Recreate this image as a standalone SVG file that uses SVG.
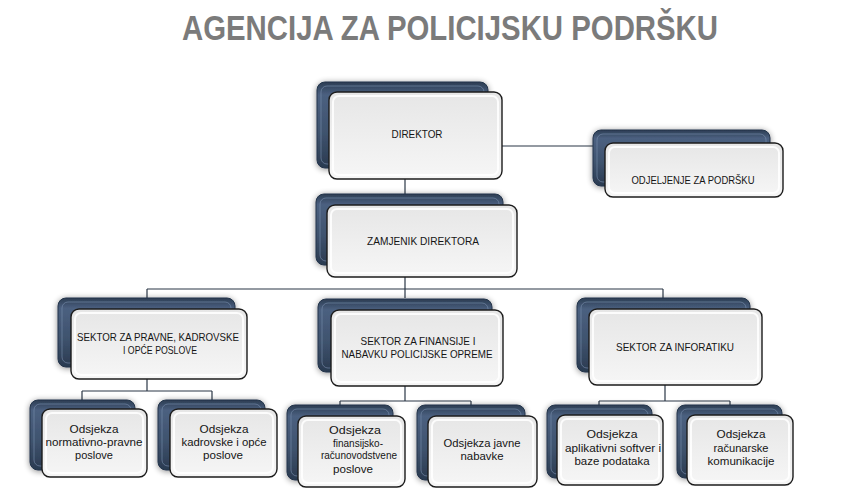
<svg xmlns="http://www.w3.org/2000/svg" width="856" height="498" viewBox="0 0 856 498">
<defs>
<linearGradient id="gBack" x1="0" y1="0" x2="0" y2="1">
<stop offset="0" stop-color="#2c3d53"/>
<stop offset="0.15" stop-color="#4b6080"/>
<stop offset="0.6" stop-color="#3e526d"/>
<stop offset="1" stop-color="#2a3a50"/>
</linearGradient>
<linearGradient id="gFront" x1="0" y1="0" x2="0" y2="1">
<stop offset="0" stop-color="#e6e6e6"/>
<stop offset="0.5" stop-color="#eeeeee"/>
<stop offset="1" stop-color="#f6f6f6"/>
</linearGradient>
<filter id="sh" x="-20%" y="-20%" width="140%" height="150%">
<feGaussianBlur in="SourceAlpha" stdDeviation="3"/>
<feOffset dx="0" dy="1" result="b"/>
<feComponentTransfer><feFuncA type="linear" slope="0.45"/></feComponentTransfer>
<feMerge><feMergeNode/><feMergeNode in="SourceGraphic"/></feMerge>
</filter>
</defs>
<style>
.back{fill:url(#gBack);stroke:#24344a;stroke-width:1;filter:url(#sh)}
.backhl{fill:none;stroke:#7a90ad;stroke-width:1;opacity:0.6}
.front{fill:url(#gFront);stroke:#1c1c1c;stroke-width:1.4}
.bevel{fill:none;stroke:#ffffff;stroke-width:2;opacity:0.85}
.lbl{font-family:"Liberation Sans",Arial,sans-serif;font-size:10.5px;fill:#151515;text-anchor:middle}
.sub{font-family:"Liberation Sans",Arial,sans-serif;font-size:11px;fill:#151515;text-anchor:middle}
.title{font-family:"Liberation Sans",Arial,sans-serif;font-size:35px;font-weight:bold;fill:#7b7b7b;text-anchor:middle}
.conn{fill:none;stroke:#2b3746;stroke-width:1.2}
</style>
<rect width="856" height="498" fill="#ffffff"/>
<text class="title" x="450" y="40" textLength="536" lengthAdjust="spacingAndGlyphs">AGENCIJA ZA POLICIJSKU PODRŠKU</text>

<g id="connectors">
<path class="conn" d="M502,146H593"/>
<path class="conn" d="M405,179V194"/>
<path class="conn" d="M405,277V289M147,289H663M147,289V298M405,289V298M663,289V298"/>
<path class="conn" d="M147,379V391M82,391H212M82,391V400M212,391V400"/>
<path class="conn" d="M405,386V401M340,401H471M340,401V405M471,401V405"/>
<path class="conn" d="M665,385V401M599,401H730M599,401V405M730,401V405"/>
</g>

<g id="direktor">
<rect class="back" x="317" y="82" width="171" height="86" rx="8"/>
<rect class="backhl" x="321" y="86" width="163" height="78" rx="6"/>
<rect class="front" x="329" y="92" width="173" height="87" rx="8"/>
<rect class="bevel" x="333" y="96" width="165" height="79" rx="6"/>
<text class="lbl" x="417" y="138" textLength="51" lengthAdjust="spacingAndGlyphs">DIREKTOR</text>
</g>

<g id="odjeljenje">
<rect class="back" x="593" y="130" width="177" height="56" rx="8"/>
<rect class="backhl" x="597" y="134" width="169" height="48" rx="6"/>
<rect class="front" x="605" y="143" width="178" height="54" rx="8"/>
<rect class="bevel" x="609" y="147" width="170" height="46" rx="6"/>
<text class="lbl" x="693" y="184" textLength="123" lengthAdjust="spacingAndGlyphs">ODJELJENJE ZA PODRŠKU</text>
</g>

<g id="zamjenik">
<rect class="back" x="316" y="194" width="187" height="71" rx="8"/>
<rect class="backhl" x="320" y="198" width="179" height="63" rx="6"/>
<rect class="front" x="327" y="205" width="190" height="72" rx="8"/>
<rect class="bevel" x="331" y="209" width="182" height="64" rx="6"/>
<text class="lbl" x="423" y="245" textLength="112" lengthAdjust="spacingAndGlyphs">ZAMJENIK DIREKTORA</text>
</g>

<g id="sektor-pravne">
<rect class="back" x="58" y="298" width="177" height="69" rx="8"/>
<rect class="backhl" x="62" y="302" width="169" height="61" rx="6"/>
<rect class="front" x="71" y="309" width="176" height="70" rx="8"/>
<rect class="bevel" x="75" y="313" width="168" height="62" rx="6"/>
<text class="lbl" x="158" y="341" textLength="162" lengthAdjust="spacingAndGlyphs">SEKTOR ZA PRAVNE, KADROVSKE</text>
<text class="lbl" x="160" y="354" textLength="74" lengthAdjust="spacingAndGlyphs">I OPĆE POSLOVE</text>
</g>

<g id="sektor-finansije">
<rect class="back" x="318" y="299" width="174" height="73" rx="8"/>
<rect class="backhl" x="322" y="303" width="166" height="65" rx="6"/>
<rect class="front" x="331" y="310" width="172" height="76" rx="8"/>
<rect class="bevel" x="335" y="314" width="164" height="68" rx="6"/>
<text class="lbl" x="418" y="345" textLength="115" lengthAdjust="spacingAndGlyphs">SEKTOR ZA FINANSIJE I</text>
<text class="lbl" x="417" y="358" textLength="151" lengthAdjust="spacingAndGlyphs">NABAVKU POLICIJSKE OPREME</text>
</g>

<g id="sektor-informatiku">
<rect class="back" x="577" y="298" width="173" height="74" rx="8"/>
<rect class="backhl" x="581" y="302" width="165" height="66" rx="6"/>
<rect class="front" x="589" y="309" width="173" height="76" rx="8"/>
<rect class="bevel" x="593" y="313" width="165" height="68" rx="6"/>
<text class="lbl" x="675" y="351" textLength="118" lengthAdjust="spacingAndGlyphs">SEKTOR ZA INFORATIKU</text>
</g>

<g id="odsjek-normativno">
<rect class="back" x="30" y="400" width="105" height="70" rx="8"/>
<rect class="backhl" x="34" y="404" width="97" height="62" rx="6"/>
<rect class="front" x="42" y="409" width="105" height="68" rx="8"/>
<rect class="bevel" x="46" y="413" width="97" height="60" rx="6"/>
<text class="sub" x="94" y="433" textLength="49" lengthAdjust="spacingAndGlyphs">Odsjekza</text>
<text class="sub" x="94" y="446" textLength="97" lengthAdjust="spacingAndGlyphs">normativno-pravne</text>
<text class="sub" x="94" y="459" textLength="38" lengthAdjust="spacingAndGlyphs">poslove</text>
</g>

<g id="odsjek-kadrovske">
<rect class="back" x="158" y="400" width="107" height="70" rx="8"/>
<rect class="backhl" x="162" y="404" width="99" height="62" rx="6"/>
<rect class="front" x="170" y="409" width="107" height="68" rx="8"/>
<rect class="bevel" x="174" y="413" width="99" height="60" rx="6"/>
<text class="sub" x="224" y="433" textLength="49" lengthAdjust="spacingAndGlyphs">Odsjekza</text>
<text class="sub" x="224" y="446" textLength="85" lengthAdjust="spacingAndGlyphs">kadrovske i opće</text>
<text class="sub" x="223" y="459" textLength="40" lengthAdjust="spacingAndGlyphs">poslove</text>
</g>

<g id="odsjek-finansijsko">
<rect class="back" x="287" y="405" width="106" height="75" rx="8"/>
<rect class="backhl" x="291" y="409" width="98" height="67" rx="6"/>
<rect class="front" x="298" y="416" width="107" height="71" rx="8"/>
<rect class="bevel" x="302" y="420" width="99" height="63" rx="6"/>
<text class="sub" x="355" y="434" textLength="52" lengthAdjust="spacingAndGlyphs">Odsjekza</text>
<text class="sub" x="358" y="447" textLength="50" lengthAdjust="spacingAndGlyphs">finansijsko-</text>
<text class="sub" x="359" y="459" textLength="76" lengthAdjust="spacingAndGlyphs">računovodstvene</text>
<text class="sub" x="353" y="473" textLength="40" lengthAdjust="spacingAndGlyphs">poslove</text>
</g>

<g id="odsjek-nabavke">
<rect class="back" x="417" y="405" width="108" height="75" rx="8"/>
<rect class="backhl" x="421" y="409" width="100" height="67" rx="6"/>
<rect class="front" x="428" y="416" width="109" height="71" rx="8"/>
<rect class="bevel" x="432" y="420" width="101" height="63" rx="6"/>
<text class="sub" x="482" y="447" textLength="77" lengthAdjust="spacingAndGlyphs">Odsjekza javne</text>
<text class="sub" x="482" y="460" textLength="43" lengthAdjust="spacingAndGlyphs">nabavke</text>
</g>

<g id="odsjek-softver">
<rect class="back" x="547" y="405" width="105" height="73" rx="8"/>
<rect class="backhl" x="551" y="409" width="97" height="65" rx="6"/>
<rect class="front" x="557" y="415" width="106" height="70" rx="8"/>
<rect class="bevel" x="561" y="419" width="98" height="62" rx="6"/>
<text class="sub" x="612" y="438" textLength="51" lengthAdjust="spacingAndGlyphs">Odsjekza</text>
<text class="sub" x="613" y="452" textLength="96" lengthAdjust="spacingAndGlyphs">aplikativni softver i</text>
<text class="sub" x="612" y="465" textLength="75" lengthAdjust="spacingAndGlyphs">baze podataka</text>
</g>

<g id="odsjek-komunikacije">
<rect class="back" x="677" y="405" width="105" height="73" rx="8"/>
<rect class="backhl" x="681" y="409" width="97" height="65" rx="6"/>
<rect class="front" x="687" y="415" width="106" height="70" rx="8"/>
<rect class="bevel" x="691" y="419" width="98" height="62" rx="6"/>
<text class="sub" x="741" y="438" textLength="49" lengthAdjust="spacingAndGlyphs">Odsjekza</text>
<text class="sub" x="741" y="452" textLength="55" lengthAdjust="spacingAndGlyphs">računarske</text>
<text class="sub" x="741" y="465" textLength="67" lengthAdjust="spacingAndGlyphs">komunikacije</text>
</g>
</svg>
